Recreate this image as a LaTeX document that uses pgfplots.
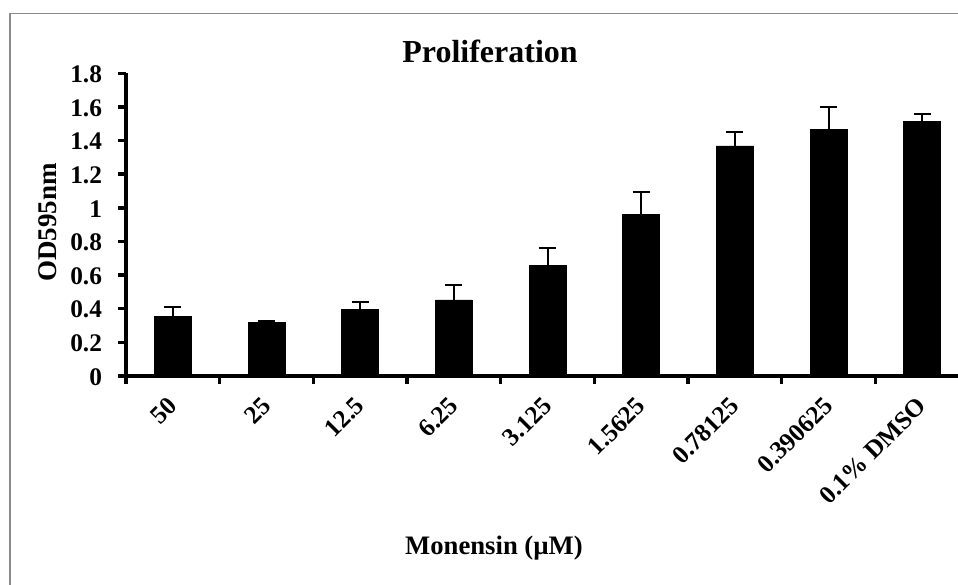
\documentclass[border=0pt]{standalone}
\usepackage{fontspec}
\setmainfont{Liberation Serif}
\usepackage{pgfplots}
\pgfplotsset{compat=1.18}

\definecolor{framegray}{RGB}{138,138,138}

\begin{document}
\begin{tikzpicture}
% page area: 958 x 585 px at 0.75pt per px
\useasboundingbox (0,0) rectangle (718.5pt,438.75pt);
\clip (0,0) rectangle (718.5pt,438.75pt);

% chart frame (open at the right and bottom)
\draw[framegray, line width=1.1pt] (7.5pt,-20pt) -- (7.5pt,428.75pt) -- (760pt,428.75pt);

\begin{axis}[
  at={(94.5pt,156.75pt)}, anchor=south west,
  scale only axis,
  width=632.25pt, height=227pt,
  xmin=-0.5, xmax=8.5,
  ymin=0, ymax=1.8,
  every axis/.append style={line width=3pt},
  axis lines*=left,
  axis line style={-, line width=3pt},
  ytick={0,0.2,...,1.8},
  yticklabels={0,0.2,0.4,0.6,0.8,1,1.2,1.4,1.6,1.8},
  % category boundaries carry the tick marks
  xtick={-0.5,0.5,...,8.5},
  xticklabels={},
  % category names sit at the bar centres without marks
  extra x ticks={0,...,8},
  extra x tick labels={50,25,12.5,6.25,3.125,1.5625,0.78125,0.390625,0.1\% DMSO},
  extra x tick style={major tick length=0pt},
  tick align=outside,
  major tick length=6pt,
  every tick/.style={black, line width=2.6pt},
  tick label style={font=\fontsize{19}{21}\selectfont\bfseries},
  /pgf/number format/assume math mode=true,
  yticklabel style={anchor=east, inner sep=0pt, xshift=-10.5pt, yshift=-0.75pt},
  xticklabel style={yshift=-18pt, xshift=1pt, inner sep=0pt, rotate=45, anchor=east},
  ybar,
  bar width=27.75pt,
  clip=false,
]
\addplot[fill=black, draw=black, line width=0.4pt,
  error bars/.cd, y dir=plus, y explicit,
  error bar style={line width=1.5pt, black},
  error mark options={rotate=90, mark size=6.4pt, line width=1.5pt, black}]
  coordinates {
    (0,0.353) +- (0,0.055)
    (1,0.317) +- (0,0.010)
    (2,0.398) +- (0,0.040)
    (3,0.452) +- (0,0.089)
    (4,0.656) +- (0,0.105)
    (5,0.961) +- (0,0.131)
    (6,1.369) +- (0,0.080)
    (7,1.468) +- (0,0.133)
    (8,1.512) +- (0,0.046)
  };
\end{axis}

% titles, placed in px (origin at top left)
\begin{scope}[yshift=438.75pt, x=0.75pt, y=-0.75pt]
  \node[anchor=base, inner sep=0pt, font=\fontsize{24}{28}\selectfont\bfseries] at (490,62.5) {Proliferation};
  \node[anchor=base, inner sep=0pt, font=\fontsize{20}{24}\selectfont\bfseries] at (494,555) {Monensin (µM)};
  \node[anchor=base, inner sep=0pt, rotate=90, font=\fontsize{20.25}{24}\selectfont\bfseries] at (56.5,222.5) {OD595nm};
\end{scope}
\end{tikzpicture}
\end{document}
